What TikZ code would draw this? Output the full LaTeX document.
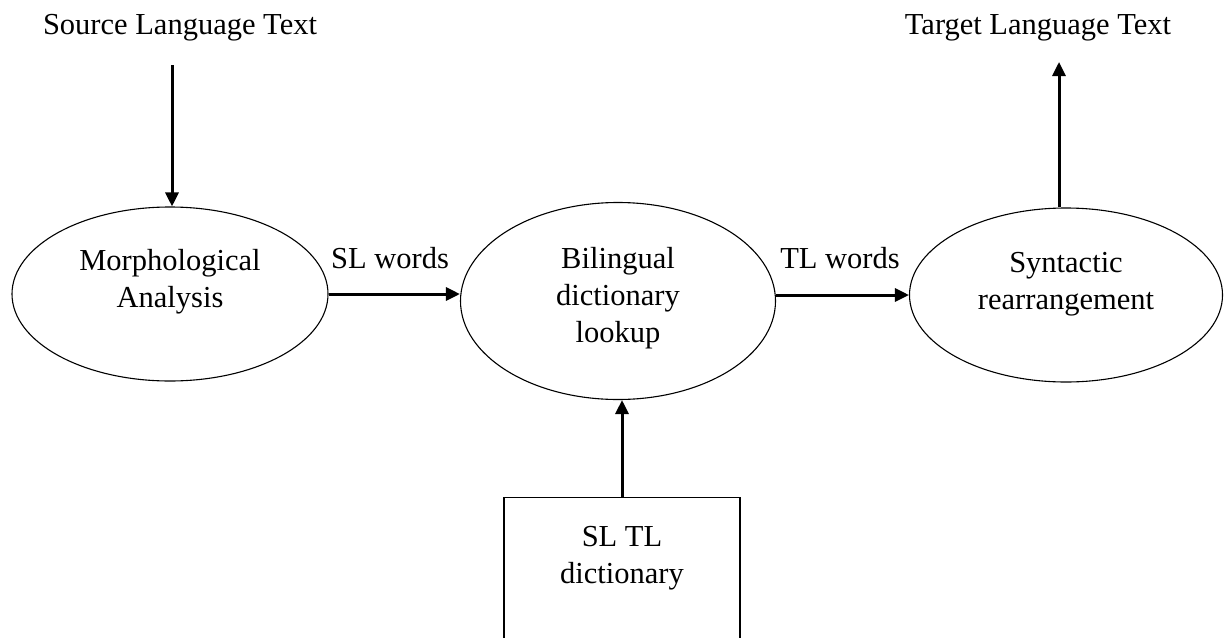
\documentclass[tikz,border=0pt]{standalone}
\usepackage{fontspec}
\setmainfont{Liberation Serif}
\usetikzlibrary{shapes.geometric,arrows.meta}
\begin{document}
\begin{tikzpicture}[x=1pt,y=-1pt,
  every node/.style={font=\fontsize{30.5}{37}\selectfont, align=center},
  proc/.style={draw, ellipse, line width=1.1pt, inner sep=0pt},
  flow/.style={line width=3pt, -{Triangle[length=14pt,width=13pt]}},
  lbl/.style={inner sep=0pt}]
\useasboundingbox (0,0) rectangle (1225,637);
\node[lbl] (src) at (180,28) {Source Language Text};
\node[lbl] (tgt) at (1038,28) {Target Language Text};
\coordinate (srcend) at (172,65);
\coordinate (tgtend) at (1059,62);
\node[proc, minimum width=316pt, minimum height=174pt] (morph) at (170,294) {};
\node[lbl] (morphtxt) at (170,282) {Morphological\\Analysis};
\node[proc, minimum width=315pt, minimum height=197pt] (bil) at (618,301) {};
\node[lbl] (biltxt) at (618,298) {Bilingual\\dictionary\\lookup};
\node[proc, minimum width=313pt, minimum height=174pt] (syn) at (1066,295) {};
\node[lbl] (syntxt) at (1066,284) {Syntactic\\rearrangement};
\begin{scope}
\clip (0,0) rectangle (1225,637);
\node[draw, line width=1.1pt, minimum width=236pt, minimum height=200pt, anchor=north, inner sep=0pt] (box) at (622,497) {};
\end{scope}
\node[lbl] (boxtxt) at (622,558) {SL TL\\dictionary};
\node[lbl] (slw) at (390,258) {SL words};
\node[lbl] (tlw) at (840,258) {TL words};
\draw[flow] (srcend) -- (srcend |- morph.north);
\draw[flow] (morph.east) -- (morph.east -| bil.west);
\draw[flow] (bil.east |- syn.west) -- (syn.west);
\draw[flow] (syn.north -| tgtend) -- (tgtend);
\draw[flow] (box.north) -- (box.north |- bil.south);
\end{tikzpicture}
\end{document}
